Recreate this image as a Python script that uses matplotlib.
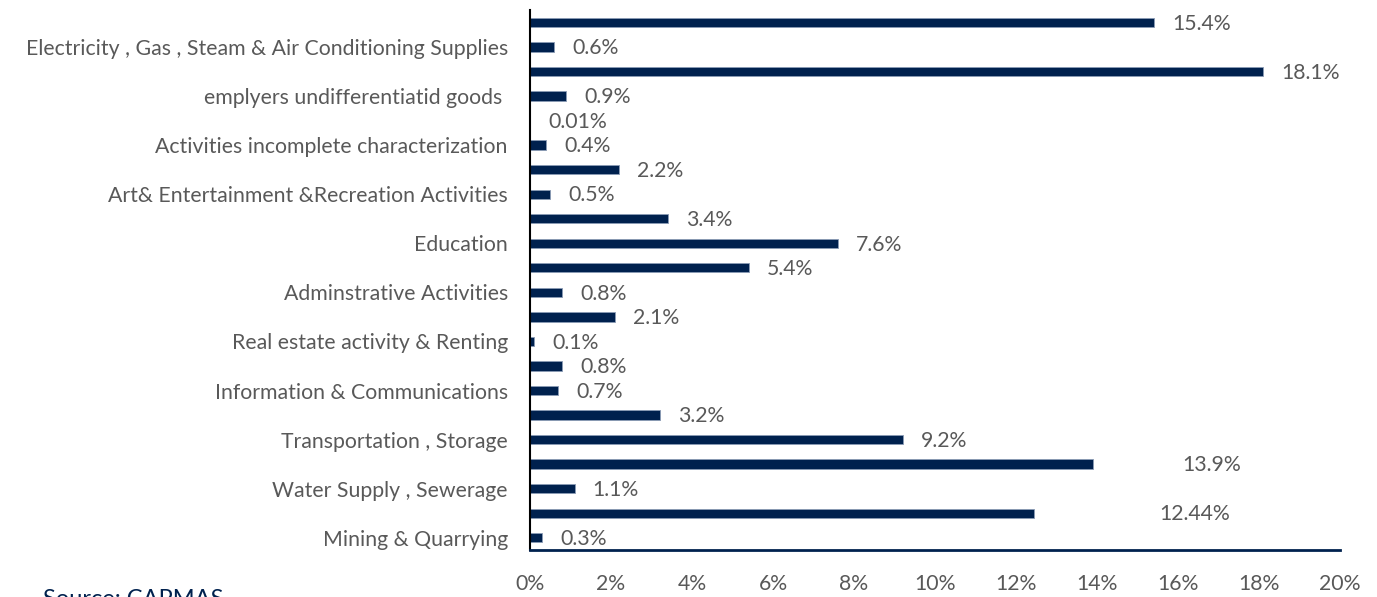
"""Horizontal bar chart of sector shares (CAPMAS)."""

import numpy as np
import matplotlib.pyplot as plt

# Categories top to bottom; every other bar carries no axis label
categories = [
    "", "Electricity , Gas , Steam & Air Conditioning Supplies",
    "", "emplyers undifferentiatid goods ",
    "", "Activities incomplete characterization",
    "", "Art& Entertainment &Recreation Activities",
    "", "Education",
    "", "Adminstrative Activities",
    "", "Real estate activity & Renting",
    "", "Information & Communications",
    "", "Transportation , Storage",
    "", "Water Supply , Sewerage",
    "", "Mining & Quarrying",
]
values = [15.4, 0.6, 18.1, 0.9, 0.01, 0.4, 2.2, 0.5, 3.4, 7.6, 5.4,
          0.8, 2.1, 0.1, 0.8, 0.7, 3.2, 9.2, 13.9, 1.1, 12.44, 0.3]
value_labels = ["15.4%", "0.6%", "18.1%", "0.9%", "0.01%", "0.4%", "2.2%",
                "0.5%", "3.4%", "7.6%", "5.4%", "0.8%", "2.1%", "0.1%",
                "0.8%", "0.7%", "3.2%", "9.2%", "13.9%", "1.1%", "12.44%",
                "0.3%"]
xticks = [0, 2, 4, 6, 8, 10, 12, 14, 16, 18, 20]

navy = "#00214e"
grey = "#595959"
fs = 15.3
plt.rcParams["font.family"] = ["Lato", "DejaVu Sans"]

fig = plt.figure(figsize=(13.77, 5.97), dpi=100)
ax = fig.add_axes([0.3849, 0.0787, 0.5882, 0.9043])

y = np.arange(len(values))
ax.barh(y, values, height=0.38, color=navy, edgecolor="#8a9bb5",
        linewidth=0.6)

# data labels just past each bar end (two sit further right in the source)
for yi, v, lab in zip(y, values, value_labels):
    x = v + 0.45
    if lab == "13.9%":
        x = 16.1
    elif lab == "12.44%":
        x = 15.55
    ax.text(x, yi + 0.05, lab, va="center", ha="left", fontsize=fs,
            color=grey)

ax.set_ylim(len(values) - 0.5, -0.5)
ax.set_xlim(0, 20)
ax.set_yticks(y)
ax.set_yticklabels(categories, fontsize=fs, color=grey)
ax.set_xticks(xticks)
ax.set_xticklabels([f"{t}%" for t in xticks], fontsize=fs, color=grey)
ax.tick_params(axis="both", length=0)
ax.tick_params(axis="y", pad=16)
ax.tick_params(axis="x", pad=17)

for side in ["top", "right"]:
    ax.spines[side].set_visible(False)
ax.spines["left"].set_color("black")
ax.spines["left"].set_linewidth(1.5)
ax.spines["bottom"].set_color(navy)
ax.spines["bottom"].set_linewidth(2)

fig.text(0.031, 0.013, "Source: CAPMAS", fontsize=17, color=navy,
         ha="left", va="top")

fig.savefig("out.png", dpi=100)
plt.close(fig)
